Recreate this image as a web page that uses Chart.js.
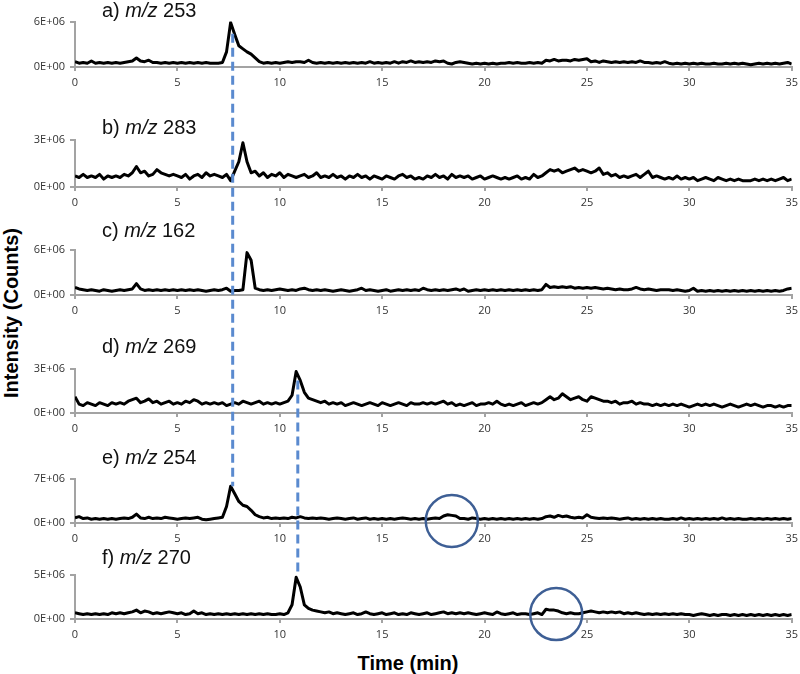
<!DOCTYPE html>
<html>
<head>
<meta charset="utf-8">
<script src="https://cdn.jsdelivr.net/npm/chart.js@4.4.1/dist/chart.umd.min.js"></script>
<style>
  html,body{margin:0;padding:0;background:#fff;overflow:hidden;width:800px;height:674px}
  #wrap{position:relative;width:800px;height:674px}
  canvas.panel{position:absolute;left:0}
  .ptitle{position:absolute;left:102px;font:20px "Liberation Sans",Arial,sans-serif;line-height:20px;color:#111;white-space:nowrap}
  #ylab{position:absolute;left:-90px;top:303px;width:200px;height:20px;line-height:20px;text-align:center;
        font:bold 20px "Liberation Sans",Arial,sans-serif;color:#000;transform:rotate(-90deg);white-space:nowrap}
  #xlab{position:absolute;left:308px;top:652px;width:200px;line-height:20px;text-align:center;
        font:bold 20px "Liberation Sans",Arial,sans-serif;color:#000}
  #overlay{position:absolute;left:0;top:0;pointer-events:none}
</style>
</head>
<body>
<div id="wrap">
  <div id="ylab">Intensity (Counts)</div>
  <div id="xlab">Time (min)</div>
  <canvas id="overlay" width="800" height="674"></canvas>
</div>
<script>
// retention time (min), one point every 0.2 min
const times = [
  0,0.2,0.4,0.6,0.8, 1,1.2,1.4,1.6,1.8, 2,2.2,2.4,2.6,2.8, 3,3.2,3.4,3.6,3.8, 4,4.2,4.4,4.6,4.8,
  5,5.2,5.4,5.6,5.8, 6,6.2,6.4,6.6,6.8, 7,7.2,7.4,7.6,7.8, 8,8.2,8.4,8.6,8.8, 9,9.2,9.4,9.6,9.8,
  10,10.2,10.4,10.6,10.8, 11,11.2,11.4,11.6,11.8, 12,12.2,12.4,12.6,12.8, 13,13.2,13.4,13.6,13.8, 14,14.2,14.4,14.6,14.8,
  15,15.2,15.4,15.6,15.8, 16,16.2,16.4,16.6,16.8, 17,17.2,17.4,17.6,17.8, 18,18.2,18.4,18.6,18.8, 19,19.2,19.4,19.6,19.8,
  20,20.2,20.4,20.6,20.8, 21,21.2,21.4,21.6,21.8, 22,22.2,22.4,22.6,22.8, 23,23.2,23.4,23.6,23.8, 24,24.2,24.4,24.6,24.8,
  25,25.2,25.4,25.6,25.8, 26,26.2,26.4,26.6,26.8, 27,27.2,27.4,27.6,27.8, 28,28.2,28.4,28.6,28.8, 29,29.2,29.4,29.6,29.8,
  30,30.2,30.4,30.6,30.8, 31,31.2,31.4,31.6,31.8, 32,32.2,32.4,32.6,32.8, 33,33.2,33.4,33.6,33.8, 34,34.2,34.4,34.6,34.8,
  35
];

// intensities in units of 1E+06 counts
const mz253 = [
  0.7,0.5,0.6,0.5,0.8, 0.5,0.6,0.5,0.6,0.5, 0.6,0.5,0.6,0.7,0.8, 1.2,0.8,0.7,0.9,0.6, 0.6,0.5,0.6,0.5,0.6,
  0.5,0.6,0.5,0.6,0.5, 0.6,0.5,0.6,0.5,0.5, 0.5,0.6,2.0,5.9,4.3, 2.8,2.4,2.0,1.7,1.2, 0.7,0.5,0.6,0.5,0.6,
  0.5,0.6,0.7,0.6,0.7, 0.7,0.6,0.9,0.6,0.5, 0.6,0.5,0.6,0.5,0.6, 0.5,0.6,0.5,0.6,0.5, 0.6,0.5,0.7,0.5,0.6,
  0.5,0.6,0.5,0.7,0.5, 0.7,0.6,0.8,0.6,0.7, 0.6,0.7,0.6,0.8,0.7, 0.8,0.5,0.4,0.6,0.7, 0.6,0.5,0.4,0.5,0.4,
  0.5,0.4,0.5,0.4,0.5, 0.5,0.6,0.5,0.6,0.5, 0.5,0.6,0.5,0.6,0.5, 0.9,0.8,1.0,0.8,0.9, 0.9,0.8,1.0,0.9,1.0,
  1.1,0.7,0.8,0.6,0.8, 0.7,0.6,0.7,0.6,0.7, 0.6,0.7,0.6,0.8,0.6, 0.6,0.5,0.6,0.5,0.7, 0.5,0.4,0.5,0.4,0.5,
  0.4,0.5,0.4,0.5,0.4, 0.4,0.5,0.4,0.4,0.5, 0.4,0.5,0.4,0.5,0.4, 0.3,0.4,0.5,0.4,0.5, 0.4,0.5,0.4,0.5,0.6,
  0.4
];
const mz283 = [
  0.7,0.6,0.8,0.6,0.7, 0.6,0.8,0.5,0.7,0.6, 0.7,0.6,0.8,0.7,0.9, 1.3,0.9,1.0,0.7,0.8, 1.1,0.9,0.8,0.7,0.8,
  0.7,0.6,0.8,0.5,0.7, 0.8,0.6,0.9,0.7,0.8, 0.7,0.6,0.8,0.4,1.0, 1.6,2.8,1.6,0.9,1.0, 0.7,0.9,0.6,0.8,0.7,
  0.9,0.6,0.8,0.7,0.6, 0.7,0.8,0.6,0.7,0.9, 0.6,0.7,0.6,0.8,0.6, 0.7,0.5,0.7,0.6,0.8, 0.6,0.7,0.5,0.7,0.6,
  0.5,0.7,0.6,0.5,0.7, 0.8,0.6,0.7,0.5,0.6, 0.5,0.7,0.6,0.8,0.6, 0.7,0.5,0.8,0.6,0.7, 0.6,0.7,0.5,0.6,0.7,
  0.5,0.6,0.7,0.6,0.5, 0.6,0.5,0.6,0.7,0.5, 0.6,0.5,0.8,0.6,0.7, 0.9,1.1,1.0,1.1,0.9, 1.0,1.1,1.2,1.0,1.1,
  1.0,0.9,1.0,1.2,0.8, 0.9,0.7,0.8,0.6,0.7, 0.6,0.7,0.8,0.6,0.8, 1.0,0.6,0.7,0.6,0.5, 0.6,0.5,0.7,0.5,0.6,
  0.5,0.6,0.4,0.5,0.6, 0.5,0.4,0.6,0.5,0.4, 0.5,0.4,0.5,0.4,0.4, 0.4,0.5,0.4,0.5,0.4, 0.5,0.4,0.5,0.6,0.4,
  0.5
];
const mz162 = [
  1.0,0.8,0.7,0.6,0.7, 0.6,0.5,0.7,0.6,0.5, 0.6,0.7,0.6,0.7,0.8, 1.5,0.8,0.6,0.7,0.6, 0.7,0.6,0.7,0.6,0.7,
  0.6,0.7,0.6,0.7,0.6, 0.7,0.6,0.5,0.6,0.7, 0.6,0.7,0.9,0.5,0.6, 0.6,0.7,5.6,4.6,0.9, 0.7,0.6,0.7,0.6,0.7,
  0.8,0.7,0.6,0.7,0.6, 0.8,0.9,0.7,0.6,0.7, 0.6,0.7,0.6,0.5,0.6, 0.7,0.6,0.5,0.6,0.7, 0.9,0.6,0.7,0.6,0.5,
  0.6,0.7,0.5,0.6,0.7, 0.6,0.7,0.6,0.7,0.6, 0.9,0.7,0.6,0.7,0.6, 0.7,0.6,0.7,0.8,0.6, 0.8,0.5,0.6,0.7,0.6,
  0.7,0.6,0.7,0.6,0.7, 0.6,0.7,0.6,0.7,0.6, 0.7,0.6,0.7,0.6,0.7, 1.4,1.0,1.1,1.0,1.1, 1.0,1.1,0.9,1.0,0.9,
  1.0,0.9,1.0,0.9,0.8, 0.9,0.8,0.7,0.8,0.7, 0.7,0.8,1.0,0.8,0.7, 0.8,0.7,0.6,0.7,0.7, 0.7,0.6,0.7,0.6,0.5,
  0.6,0.9,0.5,0.6,0.5, 0.6,0.5,0.6,0.5,0.6, 0.5,0.6,0.5,0.6,0.5, 0.6,0.5,0.6,0.5,0.6, 0.5,0.6,0.5,0.6,0.8,
  0.9
];
const mz269 = [
  1.1,0.6,0.5,0.7,0.6, 0.5,0.7,0.6,0.5,0.7, 0.6,0.7,0.6,0.8,0.9, 1.0,0.7,0.8,0.95,0.7, 0.8,0.6,0.7,0.8,0.6,
  0.7,0.6,0.8,0.7,0.9, 0.8,0.6,0.7,0.6,0.7, 0.6,0.7,0.5,0.6,0.7, 0.6,0.8,0.7,0.6,0.7, 0.8,0.6,0.7,0.6,0.7,
  0.6,0.7,0.8,1.2,2.8, 2.2,1.4,1.0,0.9,0.8, 0.7,0.8,0.6,0.7,0.6, 0.7,0.5,0.6,0.7,0.6, 0.5,0.6,0.7,0.6,0.5,
  0.7,0.6,0.5,0.6,0.7, 0.6,0.5,0.7,0.6,0.6, 0.7,0.6,0.7,0.6,0.7, 0.8,0.6,0.7,0.5,0.6, 0.5,0.6,0.7,0.5,0.6,
  0.6,0.7,0.6,0.8,0.6, 0.5,0.6,0.5,0.6,0.7, 0.5,0.6,0.7,0.6,0.7, 0.9,1.1,0.9,1.0,1.3, 1.1,0.9,1.0,1.1,0.9,
  0.8,1.1,1.0,0.9,0.8, 0.8,0.7,0.8,0.6,0.7, 0.7,0.8,0.6,0.7,0.6, 0.6,0.5,0.6,0.5,0.6, 0.5,0.6,0.5,0.6,0.5,
  0.4,0.5,0.6,0.5,0.6, 0.5,0.6,0.5,0.4,0.5, 0.6,0.5,0.4,0.5,0.6, 0.5,0.6,0.5,0.4,0.5, 0.5,0.4,0.5,0.4,0.5,
  0.5
];
const mz254 = [
  0.8,1.0,0.7,0.8,0.6, 0.7,0.6,0.7,0.6,0.7, 0.6,0.7,0.8,0.7,0.9, 1.4,0.8,0.7,0.9,0.7, 0.8,0.7,0.9,0.8,0.7,
  0.6,0.7,0.8,0.7,0.8, 0.9,0.6,0.5,0.6,0.7, 0.8,0.9,2.6,5.8,4.6, 3.4,2.8,2.6,2.0,1.3, 1.0,0.8,0.9,0.7,0.8,
  0.7,0.8,0.7,0.9,0.8, 1.0,0.8,0.7,0.8,0.7, 0.8,0.7,0.6,0.7,0.8, 0.7,0.6,0.7,0.8,0.6, 0.7,0.8,0.6,0.7,0.6,
  0.7,0.6,0.7,0.6,0.7, 0.8,0.7,0.6,0.7,0.6, 0.7,0.6,0.7,0.8,0.7, 1.1,1.3,1.2,1.1,0.7, 0.7,0.6,0.8,0.7,0.6,
  0.7,0.6,0.7,0.6,0.7, 0.6,0.7,0.6,0.7,0.6, 0.7,0.6,0.7,0.6,0.7, 1.0,1.1,0.9,1.2,1.0, 1.1,0.9,0.8,0.9,0.8,
  1.3,0.9,0.8,0.7,0.8, 0.7,0.8,0.7,0.6,0.7, 0.8,0.6,0.7,0.6,0.7, 0.6,0.7,0.6,0.7,0.6, 0.6,0.7,0.6,0.8,0.6,
  0.7,0.6,0.7,0.6,0.7, 0.6,0.7,0.6,0.8,0.6, 0.7,0.6,0.7,0.6,0.6, 0.7,0.6,0.7,0.6,0.7, 0.6,0.7,0.6,0.7,0.6,
  0.7
];
const mz270 = [
  0.7,0.6,0.5,0.6,0.5, 0.6,0.5,0.6,0.5,0.7, 0.6,0.7,0.6,0.7,0.8, 1.0,0.7,0.9,0.8,0.6, 0.7,0.6,0.7,0.8,0.7,
  0.6,0.7,0.5,0.6,0.9, 0.6,0.7,0.5,0.6,0.5, 0.6,0.5,0.6,0.5,0.6, 0.5,0.6,0.5,0.6,0.5, 0.6,0.5,0.6,0.5,0.5,
  0.6,0.5,0.7,1.6,4.7, 3.6,1.6,1.2,1.0,0.9, 0.8,0.7,0.8,0.6,0.7, 0.6,0.5,0.6,0.7,0.5, 0.6,0.8,0.6,0.5,0.6,
  0.7,0.5,0.6,0.7,0.5, 0.6,0.5,0.7,0.6,0.5, 0.6,0.7,0.5,0.6,0.7, 0.8,0.6,0.7,0.6,0.7, 0.6,0.7,0.6,0.5,0.6,
  0.7,0.6,0.5,0.8,0.6, 0.5,0.6,0.7,0.5,0.6, 0.6,0.5,0.6,0.7,0.5, 1.1,1.0,1.0,0.9,0.7, 0.6,0.7,0.6,0.6,0.7,
  0.8,0.9,0.8,0.7,0.8, 0.7,0.8,0.7,0.8,0.6, 0.7,0.6,0.7,0.6,0.5, 0.6,0.5,0.6,0.5,0.6, 0.5,0.6,0.5,0.6,0.5,
  0.5,0.4,0.5,0.6,0.5, 0.4,0.5,0.4,0.5,0.5, 0.4,0.5,0.4,0.5,0.4, 0.5,0.4,0.5,0.4,0.5, 0.4,0.5,0.4,0.5,0.4,
  0.5
];

const series = [mz253, mz283, mz162, mz269, mz254, mz270];
const panelLetters = ['a', 'b', 'c', 'd', 'e', 'f'];
const panelMz = ['253', '283', '162', '269', '254', '270'];
const panelMax = [6, 3, 6, 3, 7, 5];   // top tick, x 1E+06

// dashed guides: time, panel it starts in / ends in, and the intensity there
const guideTimes = [7.7, 10.88];
const guideFrom = [0, 3];
const guideFromVal = [4.4, 2.2];
const guideTo = [4, 5];
const guideToVal = [5.8, 4.9];

// circled features: panel, time, intensity
const ringPanel = [4, 5];
const ringTimes = [18.4, 23.5];
const ringVals = [0.3, 0.55];

// layout (page px)
const plotTops = [20, 138, 248, 367, 477, 573];
const plotBottoms = [67, 187, 295, 413, 523, 619];
const titleTops = [0, 117, 220, 336, 447, 547];

const axisColor = '#a3a3a3';
const tickFont = {family: '"Open Sans", sans-serif', size: 11};
const wrap = document.getElementById('wrap');
const charts = [];

function makePanel(i){
  const cv = document.createElement('canvas');
  cv.className = 'panel';
  cv.width = 803;
  cv.height = plotBottoms[i] - plotTops[i] + 40;
  cv.style.top = (plotTops[i] - 10) + 'px';
  wrap.insertBefore(cv, document.getElementById('overlay'));

  const t = document.createElement('div');
  t.className = 'ptitle';
  t.style.top = titleTops[i] + 'px';
  t.innerHTML = panelLetters[i] + ') <i>m/z</i> ' + panelMz[i];
  wrap.appendChild(t);

  const pts = times.map((x, k) => ({x: x, y: series[i][k]}));
  return new Chart(cv, {
    type: 'line',
    data: {datasets: [{data: pts, borderColor: '#000', borderWidth: 3, pointRadius: 0, tension: 0, fill: false, borderJoinStyle: 'round'}]},
    options: {
      responsive: false, animation: false, devicePixelRatio: 1,
      layout: {padding: {top: 10, right: 10, left: 0, bottom: 0}},
      plugins: {legend: {display: false}, tooltip: {enabled: false}},
      scales: {
        x: {
          type: 'linear', min: 0, max: 35,
          ticks: {stepSize: 5, color: '#333', font: tickFont, padding: 5, maxRotation: 0},
          grid: {drawOnChartArea: false, tickLength: 4, color: axisColor, lineWidth: 2},
          border: {color: axisColor, width: 2},
          afterFit(s){ s.height = 30; }
        },
        y: {
          min: 0, max: panelMax[i],
          ticks: {stepSize: panelMax[i], color: '#333', font: tickFont, padding: 5,
                  callback: v => v === 0 ? '0E+00' : v + 'E+06'},
          grid: {drawOnChartArea: false, tickLength: 5, color: axisColor, lineWidth: 2},
          border: {color: axisColor, width: 2},
          afterFit(s){ s.width = 75; }
        }
      }
    }
  });
}

for(let i = 0; i < series.length; i++) charts.push(makePanel(i));

// guides + circles on top of everything
function drawOverlay(){
  const ctx = document.getElementById('overlay').getContext('2d');
  ctx.clearRect(0, 0, 800, 674);
  ctx.strokeStyle = '#5a8acf';
  ctx.lineWidth = 3;
  ctx.setLineDash([9, 5]);
  guideTimes.forEach((t, g) => {
    const c0 = charts[guideFrom[g]], c1 = charts[guideTo[g]];
    const x = c0.scales.x.getPixelForValue(t);
    const y0 = c0.canvas.offsetTop + c0.scales.y.getPixelForValue(guideFromVal[g]);
    const y1 = c1.canvas.offsetTop + c1.scales.y.getPixelForValue(guideToVal[g]);
    ctx.beginPath(); ctx.moveTo(x, y0); ctx.lineTo(x, y1); ctx.stroke();
  });
  ctx.setLineDash([]);
  ctx.strokeStyle = '#3e5f95';
  ctx.lineWidth = 2.5;
  ringTimes.forEach((t, r) => {
    const c = charts[ringPanel[r]];
    const x = c.scales.x.getPixelForValue(t);
    const y = c.canvas.offsetTop + c.scales.y.getPixelForValue(ringVals[r]);
    ctx.beginPath(); ctx.arc(x, y, 26, 0, Math.PI * 2); ctx.stroke();
  });
}
drawOverlay();
</script>
</body>
</html>
